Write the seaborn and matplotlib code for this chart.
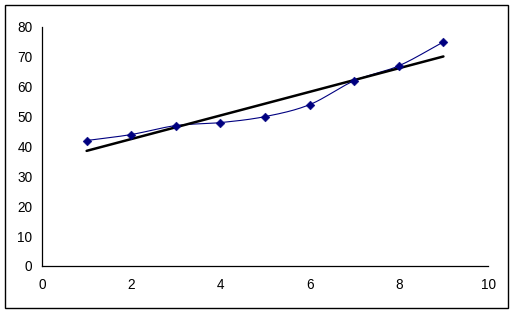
import numpy as np
import pandas as pd
import seaborn as sns
import matplotlib
matplotlib.use("Agg")
import matplotlib.pyplot as plt
from matplotlib.patches import Rectangle

x_vals = [1, 2, 3, 4, 5, 6, 7, 8, 9]
y_vals = [42, 44, 47, 48, 50, 54, 62, 67, 75]
x_ticks = [0, 2, 4, 6, 8, 10]
y_ticks = [0, 10, 20, 30, 40, 50, 60, 70, 80]

sns.set_style("white")
plt.rcParams['font.family'] = ['Liberation Sans', 'DejaVu Sans']

df = pd.DataFrame({"x": x_vals, "y": y_vals})

# Catmull-Rom smoothing (Excel-style smoothed line)
def catmull_rom(xs, ys, n=20):
    P = np.column_stack([xs, ys]).astype(float)
    P = np.vstack([P[0] - (P[1] - P[0]), P, P[-1] + (P[-1] - P[-2])])
    out = []
    for i in range(1, len(P) - 2):
        p0, p1, p2, p3 = P[i - 1], P[i], P[i + 1], P[i + 2]
        t = np.linspace(0, 1, n, endpoint=False)[:, None]
        pts = 0.5 * ((2 * p1) + (-p0 + p2) * t + (2 * p0 - 5 * p1 + 4 * p2 - p3) * t ** 2
                     + (-p0 + 3 * p1 - 3 * p2 + p3) * t ** 3)
        out.append(pts)
    out.append(P[-2][None, :])
    return np.vstack(out)

smooth = catmull_rom(x_vals, y_vals)
sm_df = pd.DataFrame({"x": smooth[:, 0], "y": smooth[:, 1]})

slope, intercept = np.polyfit(x_vals, y_vals, 1)
trend_df = pd.DataFrame({"x": [x_vals[0], x_vals[-1]],
                         "y": [intercept + slope * x_vals[0], intercept + slope * x_vals[-1]]})

fig = plt.figure(figsize=(5.13, 3.13), dpi=100)
ax = fig.add_axes([0.0819, 0.1502, 0.8694, 0.7636])

sns.lineplot(data=sm_df, x="x", y="y", ax=ax, color="#000080", linewidth=0.8, sort=False, estimator=None)
sns.lineplot(data=trend_df, x="x", y="y", ax=ax, color="black", linewidth=1.8, estimator=None)
sns.scatterplot(data=df, x="x", y="y", ax=ax, marker="D", s=20, color="#000080", edgecolor="#000080", zorder=5)

ax.set_xlim(0, 10)
ax.set_ylim(0, 80)
ax.set_xticks(x_ticks)
ax.set_yticks(y_ticks)
ax.set_xlabel("")
ax.set_ylabel("")
ax.tick_params(axis="both", direction="out", length=3, width=0.8, colors="black", labelsize=9.8, pad=4)
ax.tick_params(axis="x", pad=6)
sns.despine(ax=ax)
for s in ["left", "bottom"]:
    ax.spines[s].set_color("black")
    ax.spines[s].set_linewidth(0.9)

fig.patches.append(Rectangle((5 / 513, 5 / 313), 503 / 513, 303 / 313, transform=fig.transFigure,
                             fill=False, edgecolor="black", linewidth=1.0))

fig.savefig("out.png", dpi=100)
